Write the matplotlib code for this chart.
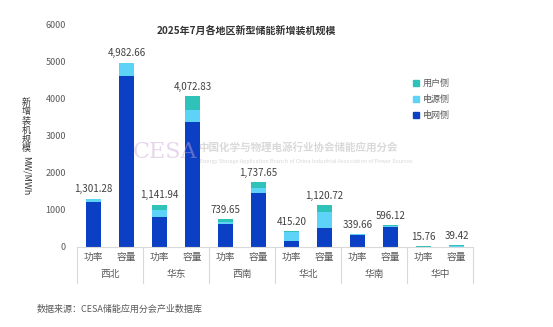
import matplotlib
matplotlib.use("Agg")
import matplotlib.pyplot as plt
from matplotlib.patches import Patch
from matplotlib.transforms import blended_transform_factory
import numpy as np

plt.rcParams['font.family'] = ['Noto Sans CJK SC', 'DejaVu Sans']

# data (MW / MWh)
regions = ["西北", "华东", "西南", "华北", "华南", "华中"]
sub_labels = ["功率", "容量"]
grid_side = [1220, 4626, 805, 3371, 620, 1455, 152, 507, 315, 520, 0, 0]      # 电网侧
source_side = [81.28, 356.66, 181, 334, 58, 136, 245, 425, 24.66, 40, 4, 9]   # 电源侧
user_side = [0, 0, 155.94, 367.83, 61.65, 146.65, 18.2, 188.72, 0, 36.12, 11.76, 30.42]  # 用户侧
totals = ["1,301.28", "4,982.66", "1,141.94", "4,072.83", "739.65", "1,737.65",
          "415.20", "1,120.72", "339.66", "596.12", "15.76", "39.42"]

c_grid = "#0B3FC4"
c_source = "#5CD3F7"
c_user = "#2FC2B8"

W, H = 553, 327
fig = plt.figure(figsize=(W / 100, H / 100), dpi=100)
x0, x1, y0, y1 = 77, 473, 246.7, 25
ax = fig.add_axes([x0 / W, (H - y0) / H, (x1 - x0) / W, (y0 - y1) / H])

x = np.arange(len(grid_side))
g = np.array(grid_side)
s = np.array(source_side)
u = np.array(user_side)
bw = 0.48
ax.bar(x, g, bw, color=c_grid, zorder=2)
ax.bar(x, s, bw, bottom=g, color=c_source, zorder=2)
ax.bar(x, u, bw, bottom=g + s, color=c_user, zorder=2)

for xi, top, lab in zip(x, g + s + u, totals):
    ax.annotate(lab, (xi, top), xytext=(0, 3), textcoords="offset points",
                ha="center", va="bottom", fontsize=7, color="#404040")

ax.set_xlim(-0.5, len(x) - 0.5)
ax.set_ylim(0, 6000)
ax.set_yticks(range(0, 6001, 1000))
ax.tick_params(axis="y", length=0, labelsize=6.5, labelcolor="#595959", pad=8)
ax.set_xticks(x)
ax.set_xticklabels(sub_labels * len(regions))
ax.tick_params(axis="x", length=0, labelsize=7, labelcolor="#595959", pad=4)
for sp in ["top", "right", "left"]:
    ax.spines[sp].set_visible(False)
ax.spines["bottom"].set_color("#d9d9d9")
ax.spines["bottom"].set_linewidth(0.8)

trans = blended_transform_factory(ax.transData, ax.transAxes)
sep_bottom = -(283 - y0) / (y0 - y1)
for i in range(len(regions) + 1):
    xs = i * 2 - 0.5
    ax.plot([xs, xs], [0, sep_bottom], transform=trans, color="#d9d9d9",
            lw=0.8, clip_on=False)
for i, r in enumerate(regions):
    ax.text(i * 2 + 0.5, -(274 - y0) / (y0 - y1), r, transform=trans,
            ha="center", va="center", fontsize=7, color="#595959")

# title
fig.text(246 / W, 1 - 31 / H, "2025年7月各地区新型储能新增装机规模", ha="center",
         va="center", fontsize=7.2, fontweight="bold", color="#333333")

# y label: stacked Chinese + rotated unit
for i, ch in enumerate("新增装机规模"):
    fig.text(26 / W, 1 - (102 + i * 9.4) / H, ch, ha="center", va="center",
             fontsize=6.5, color="#333333")
fig.text(26 / W, 1 - 156 / H, "MW/MWh", ha="center", va="top",
         rotation=-90, fontsize=6.5, color="#333333")

# watermark
fig.text(133 / W, 1 - 152 / H, "CESA", fontsize=16, family="DejaVu Serif",
         color="#c9a6d6", alpha=0.45, va="center", ha="left")
fig.text(198 / W, 1 - 147 / H, "中国化学与物理电源行业协会储能应用分会", fontsize=7.6,
         color="#bbbbbb", alpha=0.55, va="center", ha="left", fontweight="bold")
fig.text(200 / W, 1 - 162 / H,
         "Energy Storage Application Branch of China Industrial Association of Power Sources",
         fontsize=3.9, color="#bbbbbb", alpha=0.6, va="center", ha="left")

# legend
handles = [Patch(color=c_user, label="用户侧"),
           Patch(color=c_source, label="电源侧"),
           Patch(color=c_grid, label="电网侧")]
fig.legend(handles=handles, loc="upper left", bbox_to_anchor=(405 / W, 1 - 71 / H),
           frameon=False, fontsize=6.5, handlelength=0.7, handleheight=0.7,
           handletextpad=0.4, labelspacing=0.75, labelcolor="#595959")

# source note
fig.text(37 / W, 1 - 309 / H, "数据来源：CESA储能应用分会产业数据库", fontsize=6.5,
         color="#595959", va="center", ha="left")

fig.savefig("out.png", dpi=100)
